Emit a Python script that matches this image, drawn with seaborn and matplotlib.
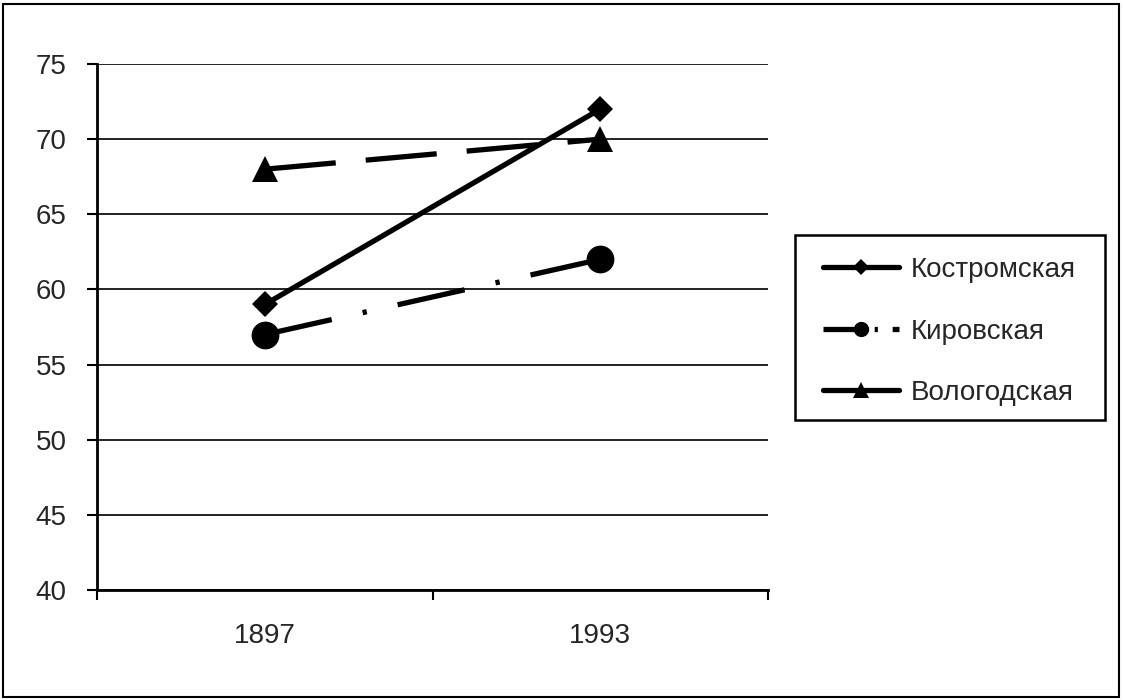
import matplotlib
matplotlib.use("Agg")
import matplotlib.pyplot as plt
import seaborn as sns
import pandas as pd
from matplotlib.patches import Rectangle
from matplotlib.lines import Line2D

years = ["1897", "1993"]
series_names = ["Костромская", "Кировская", "Вологодская"]
kostroma = [59, 72]
kirov = [57, 62]
vologda = [68, 70]
y_ticks = [40, 45, 50, 55, 60, 65, 70, 75]

rows = []
for name, vals in zip(series_names, [kostroma, kirov, vologda]):
    for i, (yr, v) in enumerate(zip(years, vals)):
        rows.append({"pos": i, "year": yr, "value": v, "series": name})
df = pd.DataFrame(rows)

sns.set_style("white")
plt.rcParams["font.family"] = ["Liberation Sans", "DejaVu Sans"]

fig = plt.figure(figsize=(11.23, 7.0), dpi=100)
ax = fig.add_axes([0.0864, 0.157, 0.6839 - 0.0864, 0.9086 - 0.157])

LW = 3.8
markers = {"Костромская": "D", "Кировская": "o", "Вологодская": "^"}
dashes = {"Костромская": "", "Кировская": (13, 6, 0.8, 6), "Вологодская": (13.5, 5.7)}
sns.lineplot(data=df, x="pos", y="value", hue="series", style="series",
             hue_order=series_names, style_order=series_names,
             palette=["black"] * 3, markers=markers, dashes=dashes,
             linewidth=LW, markeredgewidth=0, ax=ax, legend=False)

sizes = {"Костромская": 13, "Кировская": 20, "Вологодская": 19}
for line, name in zip(ax.get_lines()[:3], series_names):
    line.set_markersize(sizes[name])

ax.set_xlim(-0.5, 1.5)
ax.set_ylim(40, 75)
ax.set_yticks(y_ticks)
ax.set_xticks([0, 1])
ax.set_xticklabels(years)
ax.set_xticks([-0.5, 0.5, 1.5], minor=True)
ax.tick_params(axis="x", which="major", length=0, pad=24, labelsize=20)
ax.tick_params(axis="x", which="minor", length=7, width=1.5, direction="out", color="black", bottom=True)
ax.tick_params(axis="y", length=7, width=1.5, direction="out", color="black", pad=15, labelsize=20, left=True)
ax.set_xlabel("")
ax.set_ylabel("")
ax.yaxis.grid(True, color="#222222", linewidth=1.4)
ax.xaxis.grid(False)
ax.set_axisbelow(True)
for s in ["top", "right"]:
    ax.spines[s].set_visible(False)
for s in ["left", "bottom"]:
    ax.spines[s].set_color("black")
    ax.spines[s].set_linewidth(2)

leg_sizes = {"Костромская": 8.5, "Кировская": 11, "Вологодская": 11}
leg_dashes = {"Костромская": "-", "Кировская": (0, (8.5, 1.2, 0.6, 2.8)), "Вологодская": "-"}
handles = []
for name in series_names:
    handles.append(Line2D([], [], color="black", linewidth=LW, linestyle=leg_dashes[name],
                          marker=markers[name], markersize=leg_sizes[name],
                          markeredgewidth=0))
leg = fig.legend(handles, series_names, loc="upper left",
                 bbox_to_anchor=(823 / 1123, 1 - 257 / 700),
                 fontsize=20, frameon=False,
                 handlelength=2.75, handletextpad=0.4, labelspacing=1.28,
                 borderpad=0, borderaxespad=0)

fig.patches.append(Rectangle((795 / 1123, 1 - 420 / 700), 310 / 1123, 185 / 700,
                             transform=fig.transFigure, fill=False,
                             edgecolor="black", linewidth=1.8))
fig.patches.append(Rectangle((0.003, 0.004), 0.993, 0.991, transform=fig.transFigure,
                             fill=False, edgecolor="black", linewidth=1.5))

fig.savefig("out.png", dpi=100)
